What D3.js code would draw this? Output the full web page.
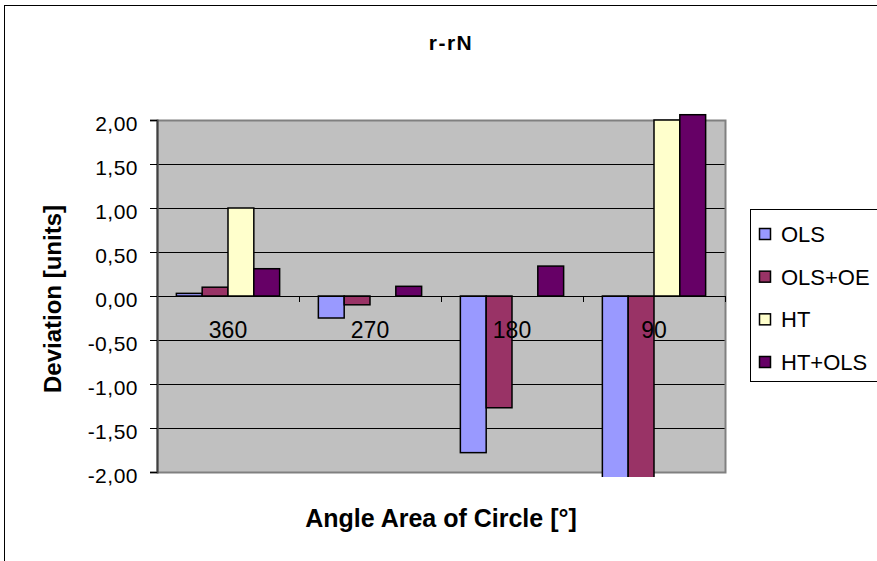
<!DOCTYPE html>
<html>
<head>
<meta charset="utf-8">
<script src="https://cdn.jsdelivr.net/npm/d3@7"></script>
<style>
  body { margin: 0; background: #fff; }
  text { font-family: "Liberation Sans", Arial, sans-serif; fill: #000; }
</style>
</head>
<body>
<svg id="chart" width="877" height="561"></svg>
<script>
// data
const categories = ["360", "270", "180", "90"]
const seriesNames = ["OLS", "OLS+OE", "HT", "HT+OLS"]
const olsValues = [0.03, -0.25, -1.78, -2.4]
const olsOeValues = [0.10, -0.10, -1.27, -2.4]
const htValues = [1.00, 0, 0, 2.00]
const htOlsValues = [0.31, 0.11, 0.34, 2.06]
const seriesColors = ["#9999FF", "#993366", "#FFFFCC", "#660066"]
const yTicks = [-2, -1.5, -1, -0.5, 0, 0.5, 1, 1.5, 2]

const allSeries = [olsValues, olsOeValues, htValues, htOlsValues]

const svg = d3.select("#chart")
const plot = { left: 157, right: 725, top: 120, bottom: 472 }

// outer frame
svg.append("rect").attr("x", 4.5).attr("y", 5.5).attr("width", 900).attr("height", 600)
  .attr("fill", "#fff").attr("stroke", "#000").attr("stroke-width", 1)

const x = d3.scaleBand().domain(categories).range([plot.left, plot.right])
// excel gap width 150% -> 0.75 bar on each side of the group
const xs = d3.scaleBand().domain(seriesNames).range([0, x.bandwidth()]).paddingInner(0).paddingOuter(0.75)
const y = d3.scaleLinear().domain([-2, 2]).range([plot.bottom, plot.top])

// plot background
svg.append("rect").attr("x", plot.left).attr("y", plot.top)
  .attr("width", plot.right - plot.left).attr("height", plot.bottom - plot.top)
  .attr("fill", "#C0C0C0")

// gridlines
svg.append("g").selectAll("line").data(yTicks.filter((d) => d !== -2 && d !== 2)).enter().append("line")
  .attr("x1", plot.left).attr("x2", plot.right)
  .attr("y1", (d) => Math.round(y(d)) + 0.5).attr("y2", (d) => Math.round(y(d)) + 0.5)
  .attr("stroke", "#000").attr("stroke-width", 1)

// plot border (grey)
svg.append("rect").attr("x", plot.left + 0.5).attr("y", plot.top + 0.5)
  .attr("width", plot.right - plot.left).attr("height", plot.bottom - plot.top)
  .attr("fill", "none").attr("stroke", "#808080").attr("stroke-width", 2)

// bars, clipped just past the plot edges like the original
svg.append("clipPath").attr("id", "clip").append("rect")
  .attr("x", plot.left).attr("y", plot.top - 7).attr("width", plot.right - plot.left).attr("height", plot.bottom - plot.top + 12)

const barLayer = svg.append("g").attr("clip-path", "url(#clip)")
const barData = []
categories.forEach((c, i) => {
  seriesNames.forEach((s, j) => barData.push({ cat: c, series: s, value: allSeries[j][i], color: seriesColors[j] }))
})
barLayer.selectAll("rect").data(barData.filter((d) => d.value !== 0)).enter().append("rect")
  .attr("x", (d) => x(d.cat) + xs(d.series))
  .attr("width", xs.bandwidth())
  .attr("y", (d) => y(Math.max(0, d.value)))
  .attr("height", (d) => Math.abs(y(d.value) - y(0)))
  .attr("fill", (d) => d.color)
  .attr("stroke", "#000").attr("stroke-width", 1.5)

// zero line + category ticks
svg.append("line").attr("x1", plot.left).attr("x2", plot.right)
  .attr("y1", Math.round(y(0)) + 0.5).attr("y2", Math.round(y(0)) + 0.5)
  .attr("stroke", "#000").attr("stroke-width", 1)
svg.append("g").selectAll("line").data(categories.slice(1).concat(["end"])).enter().append("line")
  .attr("x1", (d) => (d === "end" ? plot.right : x(d)) + 0.5).attr("x2", (d) => (d === "end" ? plot.right : x(d)) + 0.5)
  .attr("y1", Math.round(y(0))).attr("y2", Math.round(y(0)) + 6)
  .attr("stroke", "#000")

// category labels
svg.append("g").selectAll("text").data(categories).enter().append("text")
  .attr("x", (d) => x(d) + x.bandwidth() / 2).attr("y", y(0) + 42)
  .attr("text-anchor", "middle").attr("font-size", 23).text((d) => d)

// y axis
const yAxis = d3.axisLeft(y).tickValues(yTicks).tickSize(7).tickPadding(12)
  .tickFormat((d) => d3.format(".2f")(d).replace(".", ",").replace("\u2212", "-"))
const ya = svg.append("g").attr("transform", `translate(${plot.left},0)`).call(yAxis)
ya.select(".domain").attr("stroke", "#404040").attr("stroke-width", 2)
ya.selectAll(".tick line").attr("stroke", "#000")
ya.selectAll(".tick text").attr("font-size", 21).attr("letter-spacing", 0.5).attr("dy", "0.5em")
  .attr("font-family", "Liberation Sans, Arial, sans-serif").attr("fill", "#000")

// titles
svg.append("text").attr("x", 451).attr("y", 50).attr("text-anchor", "middle")
  .attr("font-size", 21).attr("font-weight", "bold").attr("letter-spacing", 1.5).text("r-rN")
svg.append("text").attr("x", 441).attr("y", 527).attr("text-anchor", "middle")
  .attr("font-size", 25).attr("font-weight", "bold").text("Angle Area of Circle [°]")
svg.append("text").attr("transform", "translate(61,299) rotate(-90)").attr("text-anchor", "middle")
  .attr("font-size", 24).attr("font-weight", "bold").text("Deviation [units]")

// legend
svg.append("rect").attr("x", 750.5).attr("y", 209.5).attr("width", 160).attr("height", 172)
  .attr("fill", "#fff").attr("stroke", "#000")
const legY = d3.scalePoint().domain(seriesNames).range([234, 362])
const leg = svg.append("g").selectAll("g").data(seriesNames).enter().append("g")
  .attr("transform", (d) => `translate(759,${legY(d)})`)
leg.append("rect").attr("x", 0.5).attr("y", -5.5).attr("width", 11).attr("height", 11)
  .attr("fill", (d, i) => seriesColors[i]).attr("stroke", "#000").attr("stroke-width", 1.5)
leg.append("text").attr("x", 22).attr("y", 8).attr("font-size", 22).text((d) => d)
</script>
</body>
</html>
